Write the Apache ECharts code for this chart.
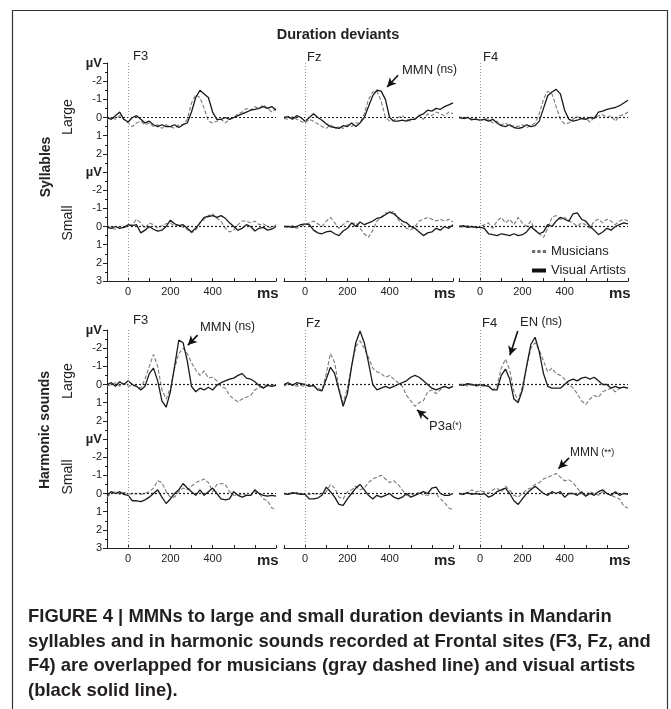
<!DOCTYPE html>
<html>
<head>
<meta charset="utf-8">
<script src="https://cdn.jsdelivr.net/npm/echarts@6/dist/echarts.min.js"></script>
<style>
  html, body { margin: 0; padding: 0; background: #fff; }
  #main { width: 671px; height: 709px; }
</style>
</head>
<body>
<div id="main"></div>
<script>
// time points (ms)
const times = [-100, -80, -60, -40, -20, 0, 20, 40, 60, 80, 100, 120, 140, 160, 180, 200, 220, 240, 260, 280,
  300, 320, 340, 360, 380, 400, 420, 440, 460, 480, 500, 520, 540, 560, 580, 600, 620, 640, 660, 680, 700];

// Syllables - large deviants (µV)
const sylF3L_va  = [0.0,0.1,-0.1,-0.3,0.1,0.25,0.0,-0.1,0.1,0.3,0.2,0.4,0.5,0.4,0.5,0.5,0.4,0.55,0.4,0.3,-0.3,-1.1,-1.5,-1.3,-1.1,-0.3,0.1,0.1,0.0,0.1,0.0,-0.1,-0.2,-0.3,-0.4,-0.45,-0.5,-0.6,-0.5,-0.6,-0.4];
const sylF3L_mus = [0.1,0.0,0.1,-0.1,0.1,0.3,0.5,0.3,0.2,0.4,0.3,0.5,0.4,0.6,0.4,0.5,0.6,0.4,0.4,0.1,-0.8,-1.25,-1.1,-0.5,0.2,0.3,0.2,0.1,0.3,0.1,0.0,-0.2,-0.3,-0.5,-0.4,-0.6,-0.5,-0.7,-0.5,-0.3,-0.5];
const sylFzL_va  = [0.0,-0.05,0.1,-0.1,0.0,0.2,0.0,-0.2,0.0,0.15,0.35,0.5,0.55,0.6,0.45,0.5,0.3,0.5,0.3,0.0,-0.6,-1.2,-1.5,-1.45,-1.0,0.0,0.2,0.2,0.15,0.2,0.1,0.1,-0.1,-0.2,-0.4,-0.35,-0.5,-0.45,-0.6,-0.7,-0.8];
const sylFzL_mus = [0.05,0.1,-0.05,0.1,0.2,0.3,0.1,0.2,0.35,0.5,0.6,0.4,0.6,0.5,0.6,0.4,0.5,0.3,0.3,-0.2,-1.0,-1.4,-1.45,-0.9,0.0,0.2,0.15,0.0,-0.1,0.1,0.2,0.05,-0.1,0.1,-0.2,-0.1,-0.3,-0.2,-0.1,-0.3,-0.2];
const sylF4L_va  = [0.0,0.05,0.0,0.1,0.1,0.15,0.1,0.2,0.1,0.3,0.45,0.5,0.4,0.55,0.6,0.55,0.4,0.5,0.45,0.2,-0.5,-1.2,-1.4,-1.55,-1.3,-0.4,0.1,0.2,0.15,0.05,0.1,0.0,0.05,-0.3,-0.35,-0.45,-0.5,-0.55,-0.65,-0.8,-0.95];
const sylF4L_mus = [-0.05,0.1,0.0,0.15,0.05,0.2,0.05,0.1,0.3,0.2,0.4,0.3,0.5,0.45,0.5,0.4,0.55,0.45,0.3,-0.2,-1.0,-1.45,-1.3,-0.6,0.1,0.35,0.3,0.1,-0.05,0.1,0.05,0.25,0.0,-0.1,-0.15,0.0,-0.1,0.2,-0.1,-0.15,-0.3];

// Syllables - small deviants
const sylF3S_va  = [0.05,0.1,0.0,0.1,0.05,-0.1,-0.05,-0.1,0.35,0.2,0.0,0.15,0.25,0.2,0.0,-0.35,-0.15,-0.05,-0.1,0.1,0.3,0.1,-0.2,-0.5,-0.55,-0.6,-0.5,-0.6,-0.45,-0.2,0.0,0.2,0.1,-0.1,0.0,0.25,0.1,0.05,0.2,0.15,0.0];
const sylF3S_mus = [-0.05,0.1,0.15,0.0,0.05,0.0,-0.1,-0.4,-0.2,0.1,-0.2,-0.1,0.1,-0.05,-0.15,-0.2,0.0,-0.1,0.05,0.15,0.35,0.2,-0.2,-0.4,-0.6,-0.7,-0.45,-0.3,0.1,0.3,0.2,-0.1,-0.3,-0.3,-0.2,-0.3,-0.1,-0.15,0.0,0.1,-0.1];
const sylFzS_va  = [0.0,0.0,0.05,0.0,-0.1,-0.15,-0.1,0.2,0.35,0.4,0.3,0.25,0.4,0.5,0.25,0.1,-0.2,0.0,-0.25,-0.1,-0.2,-0.3,-0.45,-0.5,-0.65,-0.8,-0.7,-0.5,-0.3,-0.2,0.0,0.1,0.3,0.5,0.35,0.3,0.1,0.2,0.0,0.1,-0.1];
const sylFzS_mus = [0.0,0.05,-0.05,0.1,0.0,-0.1,-0.2,-0.3,-0.15,0.0,-0.3,-0.5,-0.2,0.1,-0.1,-0.3,-0.15,-0.2,0.1,0.4,0.6,0.2,-0.3,-0.5,-0.75,-0.7,-0.85,-0.4,-0.1,0.1,0.2,0.0,-0.3,-0.4,-0.5,-0.4,-0.3,-0.4,-0.3,-0.4,-0.25];
const sylF4S_va  = [0.0,-0.05,0.05,0.0,0.05,0.05,0.1,0.4,0.45,0.5,0.4,0.45,0.5,0.4,0.5,0.45,0.3,0.0,0.2,0.4,0.3,-0.1,0.0,-0.3,-0.5,-0.4,-0.3,-0.7,-0.75,-0.4,-0.3,0.0,0.2,0.45,0.3,0.1,0.2,0.0,-0.1,-0.2,-0.15];
const sylF4S_mus = [0.0,0.05,-0.05,0.0,0.1,0.0,-0.1,-0.2,0.1,-0.3,-0.5,-0.2,-0.4,-0.1,-0.5,-0.2,0.0,-0.3,0.2,0.4,0.6,0.1,-0.5,-0.6,-0.4,-0.5,-0.3,-0.2,0.0,-0.2,-0.1,0.1,-0.3,-0.4,-0.2,-0.4,-0.3,-0.1,-0.3,-0.4,-0.3];

// Harmonic sounds - large deviants
const harF3L_va  = [0.0,-0.1,0.1,-0.15,0.0,-0.2,0.0,0.1,0.3,0.1,-0.6,-0.9,-0.2,0.9,1.25,0.4,-1.0,-2.45,-2.3,-1.3,0.1,0.4,0.2,0.3,0.15,0.3,0.05,-0.1,-0.2,-0.3,-0.35,-0.5,-0.6,-0.35,-0.3,-0.15,0.05,0.2,0.05,0.1,0.05];
const harF3L_mus = [0.1,0.0,-0.1,0.1,-0.05,0.1,0.05,0.1,0.2,-0.3,-1.0,-1.65,-1.0,0.3,0.8,0.2,-0.9,-1.7,-2.0,-1.7,-1.2,-0.8,-0.5,-0.75,-0.35,-0.4,-0.2,0.1,0.2,0.6,0.8,0.95,0.8,0.7,0.6,0.3,0.15,0.1,0.0,0.05,0.0];
const harFzL_va  = [0.0,-0.1,0.05,-0.1,-0.05,0.0,0.1,0.05,0.3,0.35,-0.3,-0.95,-0.6,0.3,1.2,0.5,-1.0,-2.3,-2.95,-2.3,-1.2,0.0,0.3,0.2,0.1,0.2,0.1,0.0,-0.1,-0.2,-0.4,-0.5,-0.4,-0.2,0.0,0.2,0.3,0.2,0.1,0.2,0.1];
const harFzL_mus = [0.1,-0.05,0.0,0.1,0.05,0.1,0.05,0.1,0.2,0.3,-0.6,-1.7,-1.2,0.2,1.0,0.2,-1.0,-2.1,-2.4,-2.0,-1.5,-0.9,-0.7,-0.6,-0.4,-0.5,-0.3,-0.1,0.1,0.6,0.9,1.2,1.0,0.9,0.4,0.3,0.5,0.3,0.1,0.2,0.1];
const harF4L_va  = [0.0,0.05,-0.05,0.0,0.05,0.0,0.05,0.1,0.3,0.3,-0.5,-0.85,-0.3,0.8,1.0,0.3,-1.0,-2.2,-2.6,-1.8,-0.6,0.1,0.2,0.2,0.2,0.0,-0.2,-0.3,-0.2,-0.35,-0.4,-0.3,-0.4,-0.2,0.0,0.0,0.2,0.1,0.2,0.15,0.2];
const harF4L_mus = [0.05,-0.05,0.1,0.0,0.1,0.05,0.1,0.1,0.3,0.1,-0.9,-1.4,-0.8,0.4,0.9,0.1,-1.0,-2.0,-2.3,-1.9,-1.3,-0.7,-0.9,-0.6,-0.5,-0.3,0.0,0.2,0.5,0.9,1.1,0.8,0.6,0.7,0.4,0.3,0.2,0.4,0.2,0.15,0.2];

// Harmonic sounds - small deviants
const harF3S_va  = [0.1,-0.1,0.0,-0.1,0.05,0.1,0.4,0.4,0.45,0.35,0.2,0.0,-0.2,0.2,0.55,0.3,0.0,-0.2,-0.55,-0.3,-0.1,0.1,-0.2,0.1,-0.1,-0.3,0.0,0.3,0.35,0.3,-0.1,0.1,0.2,0.1,0.1,-0.2,0.0,0.1,0.15,0.1,0.15];
const harF3S_mus = [0.2,0.0,-0.1,0.05,-0.05,0.0,0.05,0.0,0.05,0.0,-0.1,-0.3,-0.7,-0.6,-0.1,0.2,0.2,-0.1,-0.3,-0.2,-0.4,-0.6,-0.7,-0.8,-0.6,-0.1,-0.5,-0.55,-0.5,-0.1,0.1,0.1,0.0,0.1,0.1,-0.1,0.0,0.3,0.4,0.8,0.85];
const harFzS_va  = [0.0,0.05,-0.05,0.0,0.05,0.05,0.3,0.3,0.25,0.1,-0.35,-0.1,0.2,0.6,0.65,0.3,0.0,-0.3,-0.5,-0.2,0.1,0.3,0.1,0.2,0.1,0.0,0.2,0.3,0.2,0.0,0.2,0.1,0.0,-0.1,0.0,-0.3,-0.35,0.0,0.1,0.1,0.0];
const harFzS_mus = [0.0,0.05,0.0,-0.05,0.05,0.0,0.05,0.0,0.05,0.0,-0.1,-0.5,-0.3,0.2,0.3,-0.1,-0.2,-0.4,-0.2,-0.3,-0.6,-0.8,-0.9,-1.0,-0.8,-0.6,-0.7,-0.5,-0.2,0.1,0.0,0.1,-0.1,0.1,0.1,0.0,0.0,0.3,0.5,0.8,0.9];
const harF4S_va  = [0.0,0.05,-0.05,0.05,0.0,0.05,0.0,0.2,0.1,-0.1,-0.2,-0.3,0.0,0.4,0.6,0.3,0.0,-0.2,-0.4,-0.2,0.0,0.1,-0.1,0.0,-0.1,0.2,0.0,0.0,0.1,-0.1,0.15,0.0,0.1,-0.1,-0.2,0.0,0.1,-0.1,0.1,0.0,0.05];
const harF4S_mus = [0.0,0.05,-0.05,-0.2,-0.1,-0.15,-0.1,0.0,-0.2,-0.3,-0.1,-0.4,-0.2,0.1,0.2,0.0,-0.2,-0.3,-0.5,-0.6,-0.8,-0.9,-1.0,-1.1,-0.9,-0.7,-0.75,-0.6,-0.3,0.0,0.1,-0.1,0.0,0.1,-0.1,0.0,0.1,0.2,0.3,0.7,0.8];

const electrodes = ["F3", "Fz", "F4"];
const xTickLabels = [0, 200, 400];
const captionLines = [
  "FIGURE 4 | MMNs to large and small duration deviants in Mandarin",
  "syllables and in harmonic sounds recorded at Frontal sites (F3, Fz, and",
  "F4) are overlapped for musicians (gray dashed line) and visual artists",
  "(black solid line)."
];

// row 0: syllables large, 1: syllables small, 2: harmonic large, 3: harmonic small
const panels = [
  [sylF3L_mus, sylF3L_va], [sylFzL_mus, sylFzL_va], [sylF4L_mus, sylF4L_va],
  [sylF3S_mus, sylF3S_va], [sylFzS_mus, sylFzS_va], [sylF4S_mus, sylF4S_va],
  [harF3L_mus, harF3L_va], [harFzL_mus, harFzL_va], [harF4L_mus, harF4L_va],
  [harF3S_mus, harF3S_va], [harFzS_mus, harFzS_va], [harF4S_mus, harF4S_va]
];

// arrows for the annotations, in data units [ms, µV]  (panel index -> from, to)
const arrows = {
  1: [[440, -2.33], [388, -1.68]],
  6: [[329, -2.72], [283, -2.17]],
  7: [[582, 1.9], [530, 1.4]],
  8: [[178, -2.95], [141, -1.61]],
  11: [[421, -1.96], [371, -1.37]]
};

const colLeft = [107, 284, 459];
const rowTop = [63, 172, 330, 439];
const FONT = '"Liberation Sans", Arial, sans-serif';

const grids = [], xAxes = [], yAxes = [], series = [];
panels.forEach((p, i) => {
  const r = Math.floor(i / 3), c = i % 3;
  const small = r % 2 === 1;
  grids.push({ left: colLeft[c], top: rowTop[r], width: 169, height: 109 });
  xAxes.push({
    type: "value", gridIndex: i, min: -100, max: 700, interval: 100,
    show: small,
    axisLine: { onZero: false, lineStyle: { color: "#222", width: 1 } },
    axisTick: { inside: true, length: 3, lineStyle: { color: "#222" } },
    axisLabel: {
      fontSize: 11, color: "#222", margin: 5, fontFamily: FONT,
      formatter: (v) => v === 600 ? "{ms|ms}" : (xTickLabels.includes(v) ? String(v) : ""),
      rich: { ms: { fontSize: 15, fontWeight: "bold", color: "#222", padding: [0, 0, 0, 26], fontFamily: FONT } }
    },
    splitLine: { show: false }
  });
  yAxes.push({
    type: "value", gridIndex: i, inverse: true, min: -3, max: 3, interval: 1,
    show: c === 0,
    axisLine: { show: true, onZero: false, lineStyle: { color: "#222", width: 1 } },
    axisTick: { show: true, length: 4, lineStyle: { color: "#222" } },
    minorTick: { show: true, splitNumber: 2, length: 2, lineStyle: { color: "#222" } },
    axisLabel: {
      fontSize: 11, color: "#222", margin: 5, fontFamily: FONT,
      formatter: (v) => v === -3 ? "{u|µV}" : (v === 3 && !small ? "" : String(v)),
      rich: { u: { fontSize: 13, fontWeight: "bold", color: "#222", fontFamily: FONT } }
    },
    splitLine: { show: false }
  });

  const mlData = [
    { yAxis: 0, lineStyle: { color: "#222", type: [2, 2], width: 1.2 } },
    { xAxis: 0, lineStyle: { color: "#999", type: [1, 2], width: 1 } }
  ];
  if (arrows[i]) {
    mlData.push([
      { coord: arrows[i][0], symbol: "none", lineStyle: { color: "#111", width: 1.6, type: "solid" } },
      { coord: arrows[i][1], symbol: "arrow", symbolSize: [7, 9] }
    ]);
  }

  series.push({
    type: "line", name: "Musicians", xAxisIndex: i, yAxisIndex: i,
    data: times.map((t, k) => [t, p[0][k]]),
    symbol: "none", z: 2,
    itemStyle: { color: "#6e6e6e" },
    lineStyle: { color: "#7a7a7a", width: 1.1, type: [4, 2] }
  });
  series.push({
    type: "line", name: "Visual Artists", xAxisIndex: i, yAxisIndex: i,
    data: times.map((t, k) => [t, p[1][k]]),
    symbol: "none", z: 3,
    itemStyle: { color: "#111" },
    lineStyle: { color: "#1a1a1a", width: 1.3 },
    markLine: { silent: true, symbol: "none", label: { show: false }, animation: false, data: mlData }
  });
});

function txt(x, y, text, size, weight, extra) {
  return {
    type: "text", x: x, y: y, silent: true,
    style: Object.assign({ text: text, fill: "#222", fontSize: size, fontWeight: weight || "normal",
      fontFamily: FONT, align: "left", verticalAlign: "middle" }, extra || {})
  };
}

const graphics = [
  { type: "rect", silent: true, shape: { x: 12.5, y: 10.5, width: 655, height: 720 },
    style: { fill: "none", stroke: "#333", lineWidth: 1.2 } },
  txt(338, 35, "Duration deviants", 14.5, "bold", { align: "center" }),
  txt(133, 56, electrodes[0], 13), txt(307, 57, electrodes[1], 13), txt(483, 57, electrodes[2], 13),
  txt(133, 320, electrodes[0], 13), txt(306, 323, electrodes[1], 13), txt(482, 323, electrodes[2], 13),
  Object.assign(txt(46, 167, "Syllables", 14, "bold", { align: "center" }), { rotation: Math.PI / 2 }),
  Object.assign(txt(68, 117, "Large", 14, "normal", { align: "center" }), { rotation: Math.PI / 2 }),
  Object.assign(txt(68, 223, "Small", 14, "normal", { align: "center" }), { rotation: Math.PI / 2 }),
  Object.assign(txt(45, 430, "Harmonic sounds", 14, "bold", { align: "center" }), { rotation: Math.PI / 2 }),
  Object.assign(txt(68, 381, "Large", 14, "normal", { align: "center" }), { rotation: Math.PI / 2 }),
  Object.assign(txt(68, 477, "Small", 14, "normal", { align: "center" }), { rotation: Math.PI / 2 }),
  txt(402, 70, "{a|MMN}{b| (ns)}", 13, "normal", { rich: { a: { fontSize: 13, fontFamily: FONT }, b: { fontSize: 12, fontFamily: FONT } } }),
  txt(200, 327, "{a|MMN}{b| (ns)}", 13, "normal", { rich: { a: { fontSize: 13, fontFamily: FONT }, b: { fontSize: 12, fontFamily: FONT } } }),
  txt(429, 426, "{a|P3a}{b|(*)}", 13, "normal", { rich: { a: { fontSize: 13, fontFamily: FONT }, b: { fontSize: 9, fontFamily: FONT } } }),
  txt(520, 322, "{a|EN}{b| (ns)}", 13, "normal", { rich: { a: { fontSize: 13, fontFamily: FONT }, b: { fontSize: 12, fontFamily: FONT } } }),
  txt(570, 453, "{a|MMN}{b| (**)}", 12, "normal", { rich: { a: { fontSize: 12, fontFamily: FONT }, b: { fontSize: 9, fontFamily: FONT } } }),
  Object.assign(txt(28, 605, captionLines.join("\n"), 19, "bold", {
    lineHeight: 24.5, verticalAlign: "top", fill: "#231f20"
  }), { scaleX: 0.97 })
];

const chart = echarts.init(document.getElementById("main"));
chart.setOption({
  animation: false,
  backgroundColor: "#fff",
  textStyle: { fontFamily: FONT },
  grid: grids,
  xAxis: xAxes,
  yAxis: yAxes,
  legend: {
    orient: "vertical", left: 532, top: 245, padding: 0, itemGap: 6,
    itemWidth: 14, itemHeight: 4, selectedMode: false,
    textStyle: { fontSize: 13, color: "#222", fontFamily: FONT },
    data: [
      { name: "Musicians", icon: "path://M0,0h3v3h-3zM5,0h3v3h-3zM10,0h3v3h-3z" },
      { name: "Visual Artists", icon: "rect" }
    ]
  },
  series: series,
  graphic: graphics
});
</script>
</body>
</html>
